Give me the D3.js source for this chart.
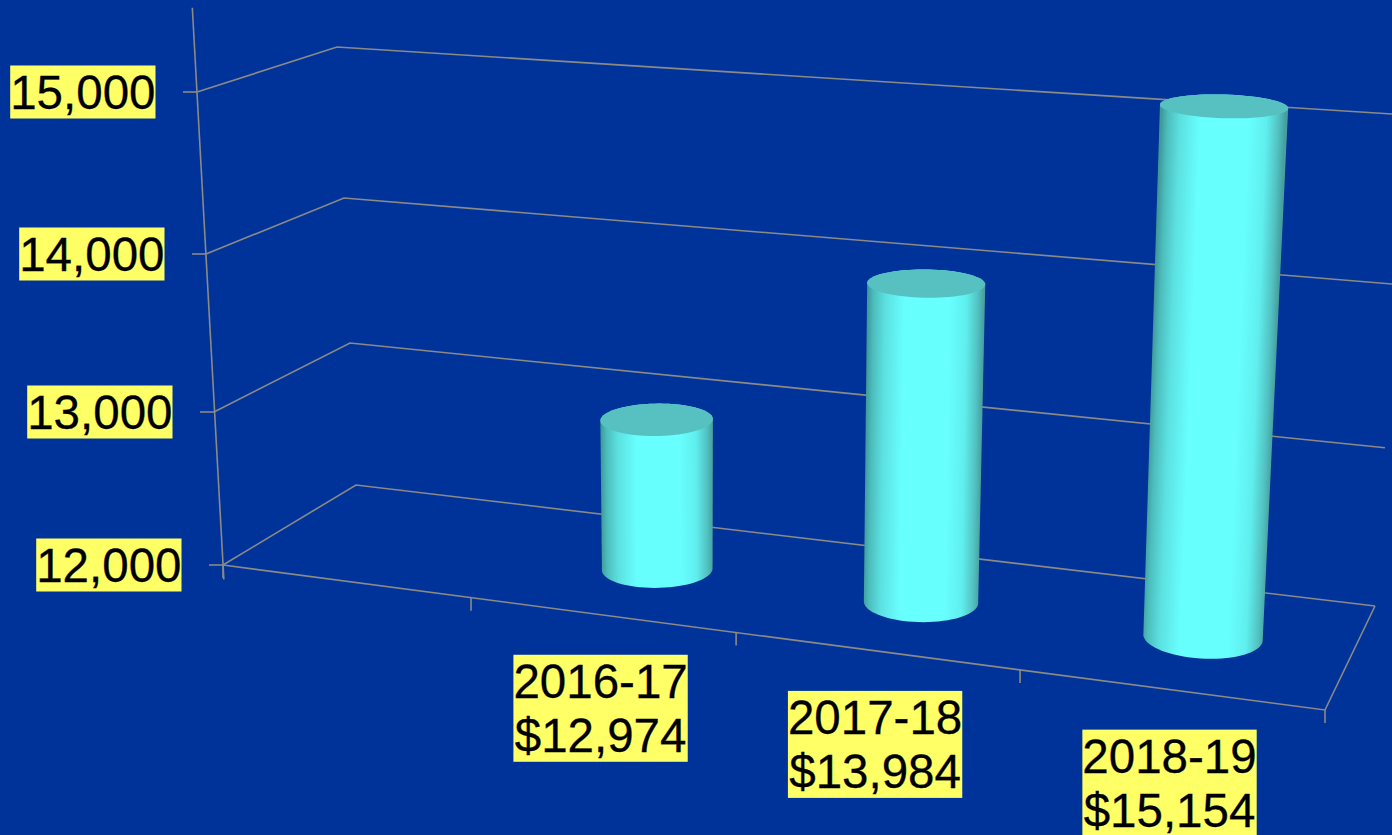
<!DOCTYPE html>
<html lang="en">
<head>
    <meta charset="UTF-8">
    <title>Cost per year</title>
    <script src="https://d3js.org/d3.v7.min.js"></script>
    <style>
      html, body { margin: 0; padding: 0; background: #003399; overflow: hidden; }
      svg { display: block; }
      text { font-family: "Liberation Sans", Arial, sans-serif; font-size: 47.5px; fill: #000; stroke: #000; stroke-width: 0.3; }
      .grid { fill: none; stroke: #8a8a86; stroke-width: 1.6; }
    </style>
</head>
<body>
    <div id="container"></div>
<script>
    // the first slot on the category axis is empty in the original chart
    var categories = ["", "2016-17", "2017-18", "2018-19"];
    var values = [null, 12974, 13984, 15154];
    var yTicks = [12000, 13000, 14000, 15000];

    var svg_width = 1392,
        svg_height = 835,
        axis_top = 15520,
        axis_bottom = 11905,
        bar_radius_u = 0.05,
        bar_radius_d = 0.2,
        bar_depth = 0.5;

    // box corners on screen, one scale per corner, read at each tick level
    function corner(xs, ys) {
        return {
            x: d3.scaleLinear().domain(yTicks).range(xs),
            y: d3.scaleLinear().domain(yTicks).range(ys)
        };
    }
    var frontLeft = corner([223, 214, 206, 197], [565, 412, 254, 92]);
    var frontRight = corner([1325, 1336, 1347, 1358], [710, 537.5, 358, 175.5]);
    var backRight = corner([1375, 1385, 1395, 1405], [606, 447.7, 284.2, 114.8]);
    var backLeft = corner([356, 350, 344, 337], [485, 343, 198, 47]);

    // u: 0..1 along the front edge, d: 0..1 into the depth, v: data value
    function project(u, d, v) {
        var x0 = frontLeft.x(v), y0 = frontLeft.y(v),
            x1 = frontRight.x(v), y1 = frontRight.y(v),
            x2 = backRight.x(v), y2 = backRight.y(v),
            x3 = backLeft.x(v), y3 = backLeft.y(v);
        var dx1 = x1 - x2, dx2 = x3 - x2, sx = x0 - x1 + x2 - x3,
            dy1 = y1 - y2, dy2 = y3 - y2, sy = y0 - y1 + y2 - y3,
            den = dx1 * dy2 - dx2 * dy1,
            g = (sx * dy2 - dx2 * sy) / den,
            h = (dx1 * sy - sx * dy1) / den,
            w = g * u + h * d + 1;
        return [
            ((x1 - x0 + g * x1) * u + (x3 - x0 + h * x3) * d + x0) / w,
            ((y1 - y0 + g * y1) * u + (y3 - y0 + h * y3) * d + y0) / w
        ];
    }

    var u_scale = d3.scaleBand().domain(categories).range([0, 1]);
    var line = d3.line();

    var svg = d3.select("#container").append("svg")
        .attr("width", svg_width)
        .attr("height", svg_height);
    var defs = svg.append("defs");

    // 背景网格
    var grid = svg.append("g");
    yTicks.forEach(function(v) {
        grid.append("path").attr("class", "grid")
            .attr("d", line([project(0, 0, v), project(0, 1, v), project(1, 1, v)]));
    });
    // floor
    grid.append("path").attr("class", "grid")
        .attr("d", line([project(0, 0, 12000), project(1, 0, 12000), project(1, 1, 12000)]));
    // y axis and its ticks
    grid.append("path").attr("class", "grid")
        .attr("d", line([project(0, 0, axis_top), project(0, 0, axis_bottom)]));
    grid.selectAll(".ytick").data(yTicks).enter().append("path")
        .attr("class", "grid ytick")
        .attr("d", function(v) {
            var p = project(0, 0, v);
            return line([[p[0] - 14, p[1]], p]);
        });
    // x ticks at the band edges
    var xEdges = categories.map(function(c) { return u_scale(c); }).concat([1]);
    grid.selectAll(".xtick").data(xEdges).enter().append("path")
        .attr("class", "grid xtick")
        .attr("d", function(u) {
            var p = project(u, 0, 12000);
            return line([p, [p[0], p[1] + 13]]);
        });

    // 圆柱
    function ring(c, v) {
        var cu = u_scale(c) + u_scale.bandwidth() / 2;
        return d3.range(0, 72).map(function(i) {
            var a = i / 72 * 2 * Math.PI;
            return project(cu + bar_radius_u * Math.cos(a), bar_depth + bar_radius_d * Math.sin(a), v);
        });
    }

    var bars = categories.map(function(c, i) {
        return {cat: c, val: values[i]};
    }).filter(function(d) { return d.val !== null; });

    var bar = svg.selectAll(".bar").data(bars).enter().append("g").attr("class", "bar");

    bars.forEach(function(d, i) {
        var cu = u_scale(d.cat) + u_scale.bandwidth() / 2;
        var b = project(cu, bar_depth, 12000), t = project(cu, bar_depth, d.val);
        var len = Math.hypot(t[0] - b[0], t[1] - b[1]);
        // gradient runs square to the leaning cylinder axis
        var px = (b[1] - t[1]) / len, py = (t[0] - b[0]) / len;
        var ext = d3.extent(ring(d.cat, 12000), function(p) { return p[0]; });
        var ext2 = d3.extent(ring(d.cat, d.val), function(p) { return p[0]; });
        var half = ((ext[1] - ext[0]) + (ext2[1] - ext2[0])) / 4;
        var mx = (b[0] + t[0]) / 2, my = (b[1] + t[1]) / 2;
        var grad = defs.append("linearGradient")
            .attr("id", "cyl" + i)
            .attr("gradientUnits", "userSpaceOnUse")
            .attr("x1", mx - px * half).attr("y1", my - py * half)
            .attr("x2", mx + px * half).attr("y2", my + py * half);
        [[0, "#3f9a9a"], [0.05, "#4cbcbc"], [0.15, "#5ce0e0"], [0.32, "#68ffff"], [0.7, "#68ffff"], [0.85, "#60eeee"], [0.95, "#52c0c0"], [1, "#47a0a0"]]
            .forEach(function(s) {
                grad.append("stop").attr("offset", s[0]).attr("stop-color", s[1]);
            });
    });

    bar.append("path")
        .attr("d", function(d) {
            return line(d3.polygonHull(ring(d.cat, 12000).concat(ring(d.cat, d.val)))) + "Z";
        })
        .style("fill", function(d, i) { return "url(#cyl" + i + ")"; });
    bar.append("path")
        .attr("d", function(d) { return line(ring(d.cat, d.val)) + "Z"; })
        .style("fill", "#57c1c1");

    // 标签
    function label(g, lines, x, y, anchor) {
        var text = g.append("text").attr("text-anchor", anchor);
        lines.forEach(function(s, i) {
            text.append("tspan").attr("x", x).attr("y", y + i * 54).text(s);
        });
        var box = text.node().getBBox();
        g.insert("rect", "text")
            .attr("x", box.x).attr("y", box.y)
            .attr("width", box.width).attr("height", box.height)
            .style("fill", "#ffff66");
    }

    yTicks.forEach(function(v) {
        var p = project(0, 0, v);
        label(svg.append("g"), [d3.format(",")(v)], p[0] - 41.5, p[1] + 16.5, "end");
    });

    bars.forEach(function(d) {
        var a = project(u_scale(d.cat), 0, 12000),
            b = project(u_scale(d.cat) + u_scale.bandwidth(), 0, 12000);
        var x = (a[0] + b[0]) / 2 - 3, y = (a[1] + b[1]) / 2;
        label(svg.append("g"), [d.cat, d3.format("$,")(d.val)], x, y + 39.7 + 43, "middle");
    });
</script>
</body>
</html>
